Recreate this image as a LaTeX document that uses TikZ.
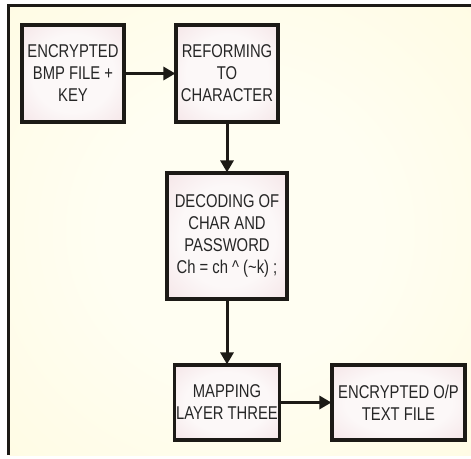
\documentclass[tikz,border=0pt]{standalone}
\usepackage{fontspec}
\setmainfont[FakeStretch=0.8]{Liberation Sans}
\usetikzlibrary{arrows.meta}
\definecolor{bgyellow}{HTML}{FEF7CE}
\definecolor{bgcream}{HTML}{FFFEF2}
\definecolor{boxpink}{HTML}{ECCFD4}
\definecolor{boxlight}{HTML}{FCF8F8}
\definecolor{inkdark}{HTML}{1C1A16}
\definecolor{textgray}{HTML}{262626}
% soft glow for the process boxes: light middle fading to pink edges
\pgfdeclareradialshading{boxglow}{\pgfpoint{0bp}{0bp}}{%
  color(0bp)=(boxlight); color(20bp)=(boxlight);
  color(55bp)=(boxpink); color(100bp)=(boxpink)}
% background glow: cream middle fading to pale yellow
\pgfdeclareradialshading{panelglow}{\pgfpoint{0bp}{0bp}}{%
  color(0bp)=(bgcream); color(15bp)=(bgcream);
  color(70bp)=(bgyellow); color(100bp)=(bgyellow)}
\tikzset{
  stage/.style={draw=inkdark, line width=3.2pt, shading=boxglow,
    align=center, text=textgray, inner sep=0pt,
    font=\fontsize{18.5}{22}\selectfont},
  flow/.style={draw=inkdark, line width=3pt,
    -{Triangle[length=12pt,width=13pt]}, shorten >=-1pt}
}
\begin{document}
\begin{tikzpicture}[x=1pt,y=-1pt]
\useasboundingbox (0,0) rectangle (471,458);
\fill[white] (0,0) rectangle (471,458);
% panel background
\shade[shading=panelglow] (9,5) rectangle (471,455);
\draw[inkdark, line width=3pt] (8.5,455) -- (8.5,5.5) -- (471,5.5);
% process boxes
\node[stage, minimum width=102pt, minimum height=97pt] (enc) at (73,73.5)
  {ENCRYPTED\\BMP FILE +\\KEY};
\node[stage, minimum width=102pt, minimum height=97pt] (ref) at (227,73.5)
  {REFORMING\\TO\\CHARACTER};
\node[stage, minimum width=120pt, minimum height=126pt] (dec) at (227,236)
  {DECODING OF\\CHAR AND\\PASSWORD\\Ch = ch \textasciicircum{} (\textasciitilde k) ;};
\node[stage, minimum width=105pt, minimum height=75pt] (map) at (227,402.5)
  {MAPPING\\LAYER THREE};
\node[stage, minimum width=133pt, minimum height=75pt] (out) at (398.5,402.5)
  {ENCRYPTED O/P\\TEXT FILE};
% connectors
\draw[flow] (enc) -- (ref);
\draw[flow] (ref) -- (dec);
\draw[flow] (dec) -- (map);
\draw[flow] (map) -- (out);
\end{tikzpicture}
\end{document}
